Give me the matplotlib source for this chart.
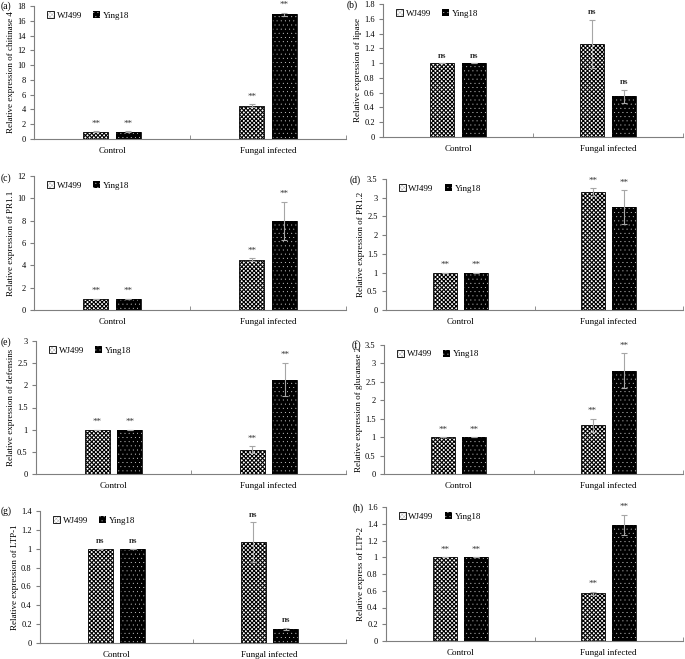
import numpy as np
import matplotlib
matplotlib.use("Agg")
import matplotlib.pyplot as plt
import matplotlib.patches as mpatches

plt.rcParams.update({"font.family": "Liberation Serif", "font.size": 6.5})

# ---- data ----
categories = ["Control", "Fungal infected"]
panel_tags = ["(a)", "(b)", "(c)", "(d)", "(e)", "(f)", "(g)", "(h)"]
ylabels = ["Relative expression of chitinase 4", "Relative expression of lipase",
           "Relative expression of PR1.1", "Relative expression of PR1.2",
           "Relative expression of defensins", "Relative expression of glucanase 2",
           "Relative expression of LTP-1", "Relative express of LTP-2"]
wj499 = [[1, 4.5], [1, 1.26], [1, 4.5], [1, 3.15],
         [1, 0.55], [1, 1.32], [1, 1.07], [1, 0.57]]
wj499_err = [[0.02, 0.2], [0.0, 0.33], [0.02, 0.15], [0.0, 0.1],
             [0.0, 0.08], [0.0, 0.18], [0.0, 0.21], [0.0, 0.02]]
ying18 = [[1, 16.9], [1, 0.55], [1, 8.0], [1, 2.75],
          [1, 2.13], [1, 2.8], [1, 0.15], [1, 1.39]]
ying18_err = [[0.02, 0.2], [0.0, 0.09], [0.02, 1.7], [0.0, 0.45],
              [0.0, 0.38], [0.0, 0.47], [0.0, 0.01], [0.0, 0.12]]
signif = ["**", "ns", "**", "**", "**", "**", "ns", "**"]
ymax = [18, 1.8, 12, 3.5, 3, 3.5, 1.4, 1.6]
ystep = [2, 0.2, 2, 0.5, 0.5, 0.5, 0.2, 0.2]

# axes boxes in pixels (left, top, right, bottom) of a 685x659 canvas
W, H = 685, 659
boxes = [(34, 6, 346, 139), (383, 4, 683, 137),
         (34, 176, 346, 310), (386, 179, 683, 310),
         (36, 341, 346, 474), (384, 345, 683, 474),
         (40, 511, 346, 643), (386, 507, 683, 641)]
tag_pos = [(1, 6), (347, 5), (1, 178), (350, 180),
           (1, 342), (352, 345), (1, 511), (353, 508)]

AXC = "#7f7f7f"
ERRC = "#a6a6a6"
CHECK, DOTS = "xxxxxxxx", "...."


def fmt(v):
    s = f"{v:.1f}"
    return s[:-2] if s.endswith(".0") else s


def checker_patch(**kw):
    plt.rcParams["hatch.linewidth"] = 0.8
    return kw


fig = plt.figure(figsize=(W / 100, H / 100), dpi=100)
x = np.arange(len(categories))
bw, off = 0.16, 0.105

for i in range(8):
    l, t, r, b = boxes[i]
    ax = fig.add_axes([l / W, 1 - b / H, (r - l) / W, (b - t) / H])
    a_vals, a_err = np.array(wj499[i]), np.array(wj499_err[i])
    b_vals, b_err = np.array(ying18[i]), np.array(ying18_err[i])

    plt.rcParams["hatch.linewidth"] = 0.8
    ax.bar(x - off, a_vals, bw, color="white", edgecolor="black",
           hatch=CHECK, lw=0.6, zorder=2)
    wh = mpatches.Patch(facecolor="white", edgecolor="black", hatch=CHECK, lw=0.6)
    # Ying18: black bars with small white dots, outline drawn on top
    plt.rcParams["hatch.linewidth"] = 0.1
    ax.bar(x + off, b_vals, bw, color="black", edgecolor="white",
           hatch=DOTS, lw=0, zorder=2)
    yh = mpatches.Patch(facecolor="black", edgecolor="white", hatch=DOTS, lw=0)
    ax.bar(x + off, b_vals, bw, fill=False, edgecolor="black", lw=0.6, zorder=3)
    ax.errorbar(x - off, a_vals, yerr=a_err, fmt="none", ecolor=ERRC,
                elinewidth=0.8, capsize=2, capthick=0.8, zorder=4)
    ax.errorbar(x + off, b_vals, yerr=b_err, fmt="none", ecolor=ERRC,
                elinewidth=0.8, capsize=2, capthick=0.8, zorder=4)

    bold = "bold" if signif[i] == "ns" else "normal"
    for xs, v, e in [(x - off, a_vals, a_err), (x + off, b_vals, b_err)]:
        for xx, vv, ee in zip(xs, v, e):
            ax.annotate(signif[i], (xx, vv + ee), xytext=(0, 4),
                        textcoords="offset points", ha="center", va="baseline",
                        fontsize=6.5, fontweight=bold, color="#333333")

    ax.set_xlim(-0.5, 1.5)
    ax.set_ylim(0, ymax[i])
    yt = np.arange(0, ymax[i] + ystep[i] / 2, ystep[i])
    ax.set_yticks(yt)
    ax.set_yticklabels([fmt(v) for v in yt], fontsize=6)
    ax.set_xticks(x)
    ax.set_xticklabels(categories, fontsize=6.5)
    ax.set_xticks([-0.5, 0.5, 1.5], minor=True)
    ax.tick_params(axis="x", which="major", length=0, pad=6)
    ax.tick_params(axis="x", which="minor", length=3, direction="in", color=AXC)
    ax.tick_params(axis="y", length=3, color=AXC, pad=3)
    for s in ["top", "right"]:
        ax.spines[s].set_visible(False)
    for s in ["left", "bottom"]:
        ax.spines[s].set_color(AXC)
        ax.spines[s].set_linewidth(0.8)
    ax.set_ylabel(ylabels[i], fontsize=6.5, labelpad=1.5)

    ax.legend([wh, yh], ["WJ499", "Ying18"], loc="upper left",
              bbox_to_anchor=(0.03, 0.99), ncol=2, frameon=False, fontsize=6.5,
              handlelength=0.8, handleheight=0.8, handletextpad=0.3,
              columnspacing=1.2, borderaxespad=0)

    fig.text(tag_pos[i][0] / W, 1 - tag_pos[i][1] / H, panel_tags[i],
             fontsize=7, va="center", ha="left")

fig.savefig("out.png", dpi=100)
